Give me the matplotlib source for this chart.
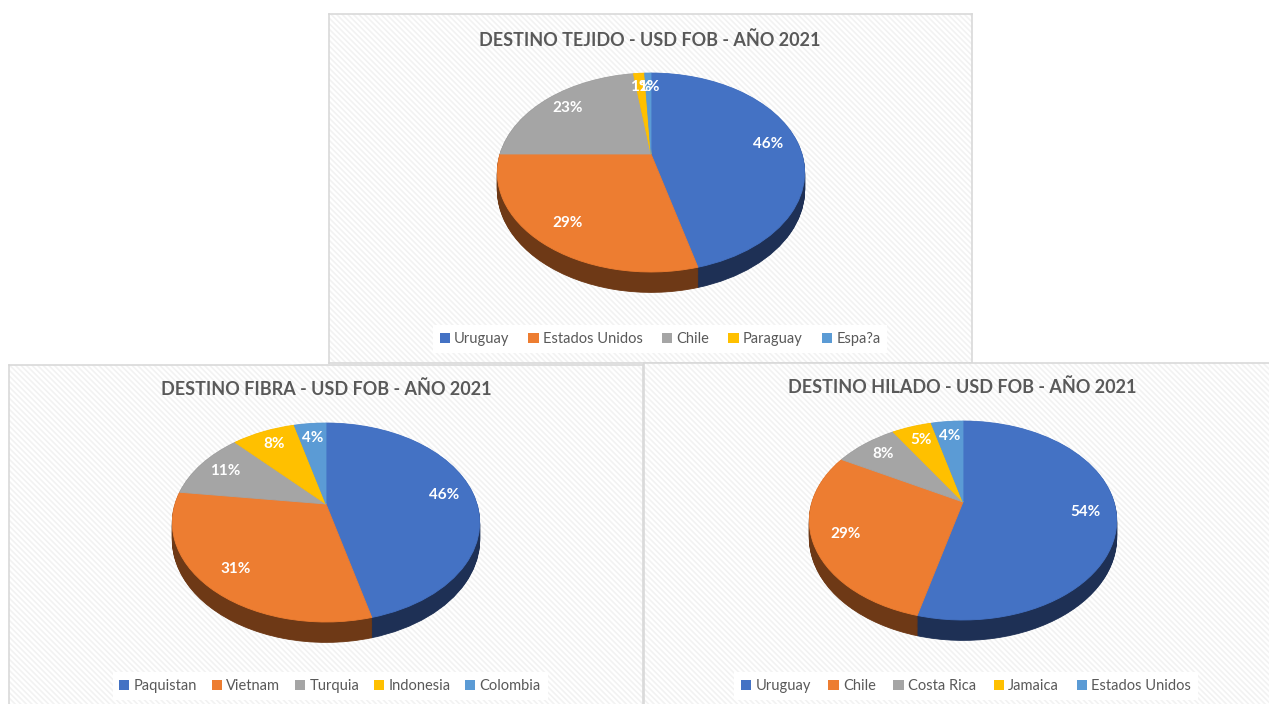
import numpy as np
import matplotlib
matplotlib.use('Agg')
import matplotlib.pyplot as plt
import matplotlib.transforms as mtransforms
from matplotlib.patches import Rectangle, Patch


# data
TEJIDO_LABELS = ['Uruguay', 'Estados Unidos', 'Chile', 'Paraguay', 'Espa?a']
TEJIDO_VALUES = [45.9, 29.1, 22.8, 1.4, 0.8]

FIBRA_LABELS = ['Paquistan', 'Vietnam', 'Turquia', 'Indonesia', 'Colombia']
FIBRA_VALUES = [46, 31, 11, 8, 4]

HILADO_LABELS = ['Uruguay', 'Chile', 'Costa Rica', 'Jamaica', 'Estados Unidos']
HILADO_VALUES = [54, 29, 8, 5, 4]

TITLES = ['DESTINO TEJIDO - USD FOB - AÑO 2021',
          'DESTINO FIBRA - USD FOB - AÑO 2021',
          'DESTINO HILADO - USD FOB - AÑO 2021']

# office palette, top faces and darker side walls
TOP_COLORS = ['#4472C4', '#ED7D31', '#A5A5A5', '#FFC000', '#5B9BD5']
SIDE_COLORS = ['#1E3055', '#6E3916', '#5A5A5A', '#8C6A00', '#2F5F8A']
TEXT_GRAY = '#595959'

W, H = 1269, 704
FONT = ['Lato', 'DejaVu Sans']
plt.rcParams['font.family'] = FONT
plt.rcParams['hatch.linewidth'] = 1.2

# 3d look: flat disk seen from above with a bit of perspective
TILT_K = 0.636      # vertical squash
PERSP = 0.186       # back of the disk smaller than the front
DEPTH = 0.11        # thickness of the pie
SCALE = 151         # px per unit radius


class TiltTransform(mtransforms.Transform):
    """maps the unit-disk of ax.pie onto a tilted disk, lowered by h"""
    input_dims = 2
    output_dims = 2

    def __init__(self, h=0.0):
        super().__init__()
        self.h = h

    def transform_non_affine(self, values):
        xy = np.asarray(values, dtype=float).reshape(-1, 2)
        u, v = xy[:, 0], xy[:, 1]
        w = 1 + PERSP * v
        return np.column_stack([u / w, (TILT_K * v - self.h) / w])


def px_rect(x0, y0, x1, y1):
    return [x0 / W, 1 - y1 / H, (x1 - x0) / W, (y1 - y0) / H]


def add_panel(fig, x0, y0, x1, y1):
    ax = fig.add_axes(px_rect(x0, y0, x1, y1))
    ax.set_xticks([])
    ax.set_yticks([])
    ax.set_xlim(0, 1)
    ax.set_ylim(0, 1)
    ax.add_patch(Rectangle((0, 0), 1, 1, transform=ax.transAxes,
                           facecolor='white', edgecolor='#F2F2F2',
                           hatch='\\' * 6, linewidth=0, zorder=0))
    for sp in ax.spines.values():
        sp.set_color('#D9D9D9')
        sp.set_linewidth(1.2)
    return ax


def tilt_wedges(wedges, tr, ax):
    for wdg in wedges:
        wdg.set_edgecolor(wdg.get_facecolor())
        wdg.set_linewidth(0.6)
        wdg.set_transform(tr + ax.transData)


def add_pie(fig, cx, cy, values):
    ax = fig.add_axes(px_rect(cx - 1.3 * SCALE, cy - 0.8 * SCALE,
                              cx + 1.3 * SCALE, cy + 1.0 * SCALE))
    ax.set_axis_off()
    # side wall: stacked copies of the pie, lowered step by step
    for h in np.linspace(DEPTH, 0, 24)[:-1]:
        wedges, _ = ax.pie(values, colors=SIDE_COLORS, startangle=90,
                           counterclock=False)
        tilt_wedges(wedges, TiltTransform(h), ax)
    # top face with labels
    wedges, _, autotexts = ax.pie(values, colors=TOP_COLORS, startangle=90,
                                  counterclock=False, pctdistance=0.8,
                                  autopct=lambda p: f'{p:.0f}%',
                                  textprops={'color': 'white', 'fontsize': 11,
                                             'fontweight': 'bold', 'family': FONT})
    top = TiltTransform(0.0)
    tilt_wedges(wedges, top, ax)
    for at in autotexts:
        at.set_position(tuple(top.transform(np.array([at.get_position()]))[0]))
    ax.set_aspect('auto')
    ax.set_xlim(-1.3, 1.3)
    ax.set_ylim(-1.0, 0.8)
    return ax


def add_title(fig, title, cx, y):
    fig.text(cx / W, 1 - y / H, title, ha='center', va='center',
             fontsize=13, fontweight='bold', color=TEXT_GRAY)


def add_legend(fig, labels, cx, y, spacing=1.3):
    handles = [Patch(facecolor=c, edgecolor='none') for c in TOP_COLORS]
    leg = fig.legend(handles, labels, loc='center', ncol=5,
                     bbox_to_anchor=(cx / W, 1 - y / H),
                     frameon=True, fancybox=False, framealpha=1,
                     handlelength=0.7, handleheight=0.7, handletextpad=0.3,
                     columnspacing=spacing, borderpad=0.45, fontsize=10.5,
                     labelcolor=TEXT_GRAY)
    leg.get_frame().set_edgecolor('white')
    leg.get_frame().set_linewidth(0)


fig = plt.figure(figsize=(W / 100, H / 100), dpi=100)
fig.patch.set_facecolor('white')

# panels
add_panel(fig, 329, 14, 972, 363)
add_panel(fig, 9, 365, 643, 708)
add_panel(fig, 644, 363, 1272, 708)

# pies
add_pie(fig, 651, 154, TEJIDO_VALUES)
add_pie(fig, 326, 504, FIBRA_VALUES)
add_pie(fig, 963, 502, HILADO_VALUES)

add_title(fig, TITLES[0], 650, 40)
add_title(fig, TITLES[1], 326, 389)
add_title(fig, TITLES[2], 962, 387)

add_legend(fig, TEJIDO_LABELS, 660, 339)
add_legend(fig, FIBRA_LABELS, 330, 686, spacing=1.0)
add_legend(fig, HILADO_LABELS, 966, 686, spacing=1.2)

fig.savefig('out.png', dpi=100, facecolor='white')
